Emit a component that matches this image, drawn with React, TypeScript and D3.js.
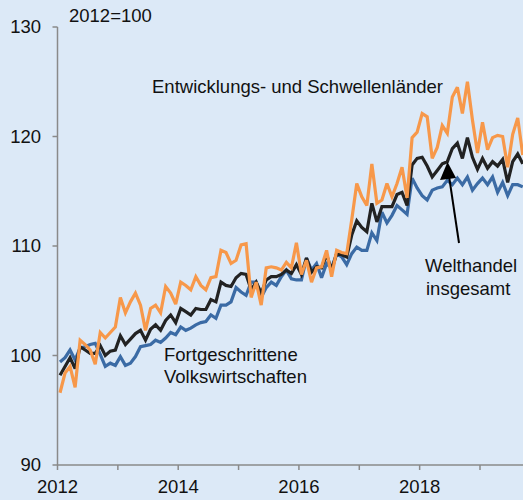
import React from "react";
import * as d3 from "d3";

const emerging = [96.6, 98.4, 99.0, 97.1, 101.4, 101.0, 100.5, 99.2, 102.1, 101.6, 102.1, 102.6,
  105.3, 103.9, 104.9, 105.7, 104.6, 102.3, 104.3, 104.6, 103.9, 106.3, 105.7, 104.7,
  106.7, 106.4, 106.0, 107.2, 106.4, 106.0, 107.1, 107.2, 109.6, 109.4, 108.4, 108.7,
  110.1, 110.2, 105.3, 106.7, 104.6, 108.0, 108.1, 108.0, 107.8, 108.5, 108.0, 110.3,
  107.4, 108.7, 106.7, 108.0, 108.1, 109.6, 107.2, 109.6, 109.4, 109.3, 112.4, 115.7,
  114.5, 113.7, 117.5, 113.9, 114.2, 115.7, 114.5, 115.7, 117.2, 114.4, 119.9, 120.4,
  122.1, 121.8, 118.0, 119.0, 121.0, 120.3, 123.6, 124.5, 122.1, 125.0, 121.5, 118.5,
  121.3, 118.8, 119.9, 120.1, 120.0, 117.2, 120.2, 121.7, 118.3];

const world = [98.2, 99.0, 99.8, 98.8, 100.8, 100.5, 100.2, 100.2, 100.9, 100.0, 100.4, 100.5,
  101.8, 101.0, 101.5, 102.0, 102.3, 101.4, 102.4, 102.8, 102.3, 103.2, 103.7, 103.0,
  104.3, 104.0, 103.7, 104.3, 104.2, 104.2, 105.1, 104.9, 106.7, 106.4, 106.3, 107.1,
  107.5, 107.4, 106.0, 106.7, 105.7, 106.9, 107.2, 107.2, 107.4, 107.8, 107.5, 108.3,
  107.4, 108.9, 107.6, 108.1, 108.0, 109.2, 107.8, 109.3, 109.2, 109.0, 111.0, 112.3,
  111.7, 111.3, 113.9, 112.2, 113.6, 113.6, 113.6, 114.7, 114.9, 113.7, 117.4, 118.0,
  118.1, 117.3, 116.3, 116.9, 117.5, 117.7, 118.9, 119.4, 118.0, 119.9, 118.1, 117.0,
  118.0, 117.1, 117.7, 117.3, 117.9, 115.8, 117.7, 118.4, 117.5];

const advanced = [99.4, 99.8, 100.5, 99.6, 100.7, 100.8, 101.0, 101.1, 100.1, 99.0, 99.3, 99.1,
  99.9, 99.1, 99.3, 99.9, 100.8, 100.9, 101.0, 101.4, 101.2, 101.6, 102.1, 101.9,
  102.6, 102.3, 102.5, 102.8, 103.0, 103.1, 103.7, 103.4, 104.6, 104.6, 104.9, 106.2,
  105.8, 105.5, 106.7, 106.7, 105.3, 106.2, 106.7, 106.4, 107.2, 107.8, 107.0, 106.9,
  106.9, 108.9, 107.8, 108.4, 107.1, 108.4, 108.0, 109.3, 109.0, 108.3, 109.3, 109.9,
  109.6, 109.6, 111.2, 110.5, 113.1, 112.1, 112.8, 113.7, 113.3, 112.9, 116.2, 115.3,
  114.6, 114.2, 115.1, 115.3, 115.4, 116.0, 115.6, 116.2, 115.6, 116.3, 115.1, 115.7,
  116.2, 115.6, 116.3, 114.9, 115.8, 114.6, 115.6, 115.6, 115.4];

const yTicks = [90, 100, 110, 120, 130];
const xTicks = [2012, 2013, 2014, 2015, 2016, 2017, 2018, 2019];
const xLabels = [2012, 2014, 2016, 2018];
const startYear = 2012;

const W = 523;
const H = 500;
const FONT = "'Liberation Sans', Arial, sans-serif";
const FS = 18.5;

export default function App() {
  const x = d3.scaleLinear().domain([2012, 2019]).range([57.5, 480]);
  const y = d3.scaleLinear().domain([90, 130]).range([465, 27]);

  const toPts = (arr: number[]) => arr.map((v, i) => ({ t: startYear + (i + 0.5) / 12, v }));
  const line = d3
    .line<{ t: number; v: number }>()
    .x((d) => x(d.t))
    .y((d) => y(d.v));

  const axisColor = "#8a8a8a";
  const x0 = x(2012);
  const yBottom = y(90);

  return (
    <svg
      width={W}
      height={H}
      style={{ position: "absolute", left: 0, top: 0, display: "block" }}
      fontFamily={FONT}
    >
      <rect x={0} y={0} width={W} height={H} fill="#dce9f7" />
      <defs>
        <clipPath id="plot">
          <rect x={x0} y={0} width={W - x0} height={yBottom} />
        </clipPath>
      </defs>

      {/* axes */}
      <line x1={x0} x2={x0} y1={y(130)} y2={yBottom} stroke={axisColor} strokeWidth={1.5} />
      <line x1={x0} x2={W} y1={yBottom} y2={yBottom} stroke={axisColor} strokeWidth={1.5} />
      {yTicks.map((t) => (
        <g key={t}>
          <line x1={x0 - 5} x2={x0} y1={y(t)} y2={y(t)} stroke={axisColor} strokeWidth={1.5} />
          <text x={41} y={y(t)} dy="0.35em" textAnchor="end" fontSize={FS} fill="#111">
            {t}
          </text>
        </g>
      ))}
      {xTicks.map((t) => (
        <line key={t} x1={x(t)} x2={x(t)} y1={yBottom} y2={yBottom + 5} stroke={axisColor} strokeWidth={1.5} />
      ))}
      {xLabels.map((t) => (
        <text key={t} x={x(t)} y={493} textAnchor="middle" fontSize={FS} fill="#111">
          {t}
        </text>
      ))}

      {/* series */}
      <g clipPath="url(#plot)" fill="none" strokeWidth={3.2} strokeLinejoin="miter" strokeMiterlimit={3}>
        <path d={line(toPts(advanced)) || ""} stroke="#3b6ba5" />
        <path d={line(toPts(world)) || ""} stroke="#222222" />
        <path d={line(toPts(emerging)) || ""} stroke="#f7984a" />
      </g>

      {/* annotations */}
      <text x={69} y={22} fontSize={FS} fill="#111">2012=100</text>
      <text x={152} y={93} fontSize={FS} fill="#111">Entwicklungs- und Schwellenländer</text>
      <text x={164} y={361} fontSize={FS} fill="#111">Fortgeschrittene</text>
      <text x={164} y={383} fontSize={FS} fill="#111">Volkswirtschaften</text>
      <text x={425} y={272} fontSize={FS} fill="#111">Welthandel</text>
      <text x={426} y={295} fontSize={FS} fill="#111">insgesamt</text>
      <line x1={459} y1={243} x2={449} y2={176} stroke="#000" strokeWidth={2} />
      <polygon points="447.5,162 440,180 456,178" fill="#000" />
    </svg>
  );
}
